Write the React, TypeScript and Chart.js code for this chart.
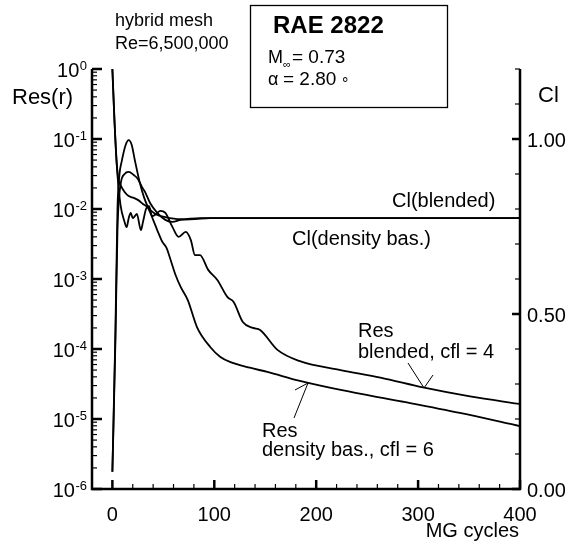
import React, { useEffect, useRef } from "react";
import { Chart, registerables } from "chart.js";
Chart.register(...registerables);

const FONT = "'Liberation Sans', Arial, Helvetica, sans-serif";

// MG cycles / residual (density based, cfl = 6)
const RES_DENSITY_X = [0, 1, 2, 4, 6, 8, 12, 16, 21, 25, 30, 35, 40, 44, 49, 53, 57, 62, 67, 74, 83, 96, 106, 116, 135, 152, 184, 224, 282, 341, 400];
const RES_DENSITY_Y = [1, 0.43, 0.19, 0.05, 0.026, 0.022, 0.0175, 0.0153, 0.0144, 0.0135, 0.0118, 0.0103, 0.007, 0.005, 0.0034, 0.0028, 0.0019, 0.00114, 0.00077, 0.0005, 0.000206, 0.000107, 7.7e-5, 6.5e-5, 5.4e-5, 4.7e-5, 3.5e-5, 2.6e-5, 1.8e-5, 1.22e-5, 7.9e-6];

// residual (blended, cfl = 4)
const RES_BLENDED_X = [0, 2, 5, 8, 12, 14, 16, 18, 20, 22, 24, 28, 30, 33, 36, 39, 43, 47, 52, 59, 65, 72, 77, 81, 86, 94, 103, 113, 119, 128, 138, 145, 162, 184, 224, 263, 306, 351, 400];
const RES_BLENDED_Y = [1, 0.19, 0.031, 0.0114, 0.0065, 0.0055, 0.0074, 0.0088, 0.0074, 0.0079, 0.0085, 0.005, 0.0065, 0.01, 0.011, 0.0079, 0.0085, 0.0094, 0.0088, 0.0055, 0.004, 0.0047, 0.0036, 0.0022, 0.0022, 0.00135, 0.00097, 0.00055, 0.00047, 0.000243, 0.0002, 0.000187, 9.7e-5, 6.7e-5, 5e-5, 3.9e-5, 2.8e-5, 2.1e-5, 1.64e-5];

// Cl (blended)
const CL_BLENDED_X = [0, 3, 5, 7, 9, 13, 16, 19, 22, 27, 31, 35, 42, 52, 67, 86, 400];
const CL_BLENDED_Y = [0.049, 0.454, 0.8, 0.9, 0.934, 0.983, 0.997, 0.983, 0.94, 0.874, 0.834, 0.806, 0.786, 0.777, 0.771, 0.774, 0.774];

// Cl (density based)
const CL_DENSITY_X = [0, 3, 5, 8, 12, 16, 21, 25, 29, 32, 37, 44, 52, 59, 67, 81, 96, 400];
const CL_DENSITY_Y = [0.049, 0.426, 0.74, 0.869, 0.9, 0.906, 0.897, 0.886, 0.863, 0.849, 0.817, 0.789, 0.769, 0.763, 0.769, 0.771, 0.774, 0.774];

// axes
const X_MIN = -20;
const X_MAX = 400;
const X_MAJOR = [0, 100, 200, 300, 400];
const X_LABELS = ["0", "100", "200", "300", "400"];
const X_MINOR_STEP = 20;
const LOG_EXPONENTS = [0, -1, -2, -3, -4, -5, -6];
const LOG_LABELS = ["0", "-1", "-2", "-3", "-4", "-5", "-6"];
const CL_MAX = 1.2;
const CL_MAJOR = [0, 0.5, 1.0];
const CL_LABELS = ["0.00", "0.50", "1.00"];
const CL_MINOR = [0.1, 0.2, 0.3, 0.4, 0.6, 0.7, 0.8, 0.9, 1.1, 1.2];

const toPts = (xs: number[], ys: number[]) => xs.map((x, i) => ({ x, y: ys[i] }));

const decor = {
  id: "decor",
  afterDraw(chart: any) {
    const ctx: CanvasRenderingContext2D = chart.ctx;
    const { left, right, top, bottom } = chart.chartArea;
    const xs = chart.scales.x;
    const ys = chart.scales.y;
    const y2 = chart.scales.y2;
    ctx.save();
    ctx.strokeStyle = "#000";
    ctx.fillStyle = "#000";
    ctx.lineCap = "butt";

    // axis lines
    ctx.lineWidth = 2.5;
    ctx.beginPath();
    ctx.moveTo(left, top);
    ctx.lineTo(left, bottom);
    ctx.lineTo(right, bottom);
    ctx.lineTo(right, top);
    ctx.stroke();

    // left log ticks
    LOG_EXPONENTS.forEach((e) => {
      const y = ys.getPixelForValue(Math.pow(10, e));
      ctx.lineWidth = 2.5;
      ctx.beginPath();
      ctx.moveTo(left, y);
      ctx.lineTo(left + 10, y);
      ctx.stroke();
      if (e < 0) {
        ctx.lineWidth = 1.2;
        for (let m = 2; m <= 9; m++) {
          const ym = ys.getPixelForValue(m * Math.pow(10, e));
          ctx.beginPath();
          ctx.moveTo(left, ym);
          ctx.lineTo(left + 5, ym);
          ctx.stroke();
        }
      }
    });

    // bottom ticks
    for (let v = 0; v <= X_MAX; v += X_MINOR_STEP) {
      const x = xs.getPixelForValue(v);
      const major = X_MAJOR.includes(v);
      ctx.lineWidth = major ? 2.5 : 1.2;
      ctx.beginPath();
      ctx.moveTo(x, bottom);
      ctx.lineTo(x, bottom - (major ? 9 : 5));
      ctx.stroke();
    }

    // right ticks
    CL_MAJOR.forEach((v) => {
      const y = y2.getPixelForValue(v);
      ctx.lineWidth = 2.5;
      ctx.beginPath();
      ctx.moveTo(right, y);
      ctx.lineTo(right - 8, y);
      ctx.stroke();
    });
    CL_MINOR.forEach((v) => {
      const y = y2.getPixelForValue(v);
      ctx.lineWidth = 1.2;
      ctx.beginPath();
      ctx.moveTo(right, y);
      ctx.lineTo(right - 5, y);
      ctx.stroke();
    });

    // left labels with superscript
    ctx.textBaseline = "alphabetic";
    LOG_EXPONENTS.forEach((e, i) => {
      const y = ys.getPixelForValue(Math.pow(10, e));
      ctx.font = `13px ${FONT}`;
      ctx.textAlign = "right";
      const expW = ctx.measureText(LOG_LABELS[i]).width;
      ctx.fillText(LOG_LABELS[i], 87, y + 1);
      ctx.font = `20px ${FONT}`;
      ctx.fillText("10", 87 - expW - 0.5, y + 8);
    });

    // bottom labels
    ctx.font = `20px ${FONT}`;
    ctx.textAlign = "center";
    X_MAJOR.forEach((v, i) => {
      ctx.fillText(X_LABELS[i], xs.getPixelForValue(v), bottom + 32);
    });

    // right labels
    ctx.textAlign = "left";
    CL_MAJOR.forEach((v, i) => {
      ctx.fillText(CL_LABELS[i], right + 7, y2.getPixelForValue(v) + 8);
    });

    // axis titles
    ctx.font = `22px ${FONT}`;
    ctx.fillText("Res(r)", 12, 104);
    ctx.fillText("Cl", 538, 102);
    ctx.font = `20px ${FONT}`;
    ctx.textAlign = "right";
    ctx.fillText("MG cycles", 519, 537);

    // header text
    ctx.textAlign = "left";
    ctx.font = `18px ${FONT}`;
    ctx.fillText("hybrid mesh", 115, 26);
    ctx.fillText("Re=6,500,000", 115, 49);

    // info box
    ctx.lineWidth = 1.3;
    ctx.strokeRect(250.5, 5.5, 197, 102);
    ctx.font = `bold 24px ${FONT}`;
    ctx.fillText("RAE 2822", 273, 33);
    ctx.font = `18px ${FONT}`;
    ctx.fillText("M", 268, 63);
    ctx.font = `11px ${FONT}`;
    ctx.fillText("\u221e", 283, 68);
    ctx.font = `19px ${FONT}`;
    ctx.fillText("= 0.73", 292, 63);
    ctx.font = `18px ${FONT}`;
    ctx.fillText("\u03b1", 268, 85);
    ctx.font = `19px ${FONT}`;
    ctx.fillText("= 2.80", 283, 85);
    ctx.font = `16px ${FONT}`;
    ctx.fillText("\u00b0", 342, 89);

    // annotations
    ctx.font = `20px ${FONT}`;
    ctx.fillText("Cl(blended)", 392, 207);
    ctx.fillText("Cl(density bas.)", 292, 245);
    ctx.fillText("Res", 358, 337);
    ctx.fillText("blended, cfl = 4", 358, 358);
    ctx.fillText("Res", 262, 437);
    ctx.fillText("density bas., cfl = 6", 262, 456);

    // leader lines
    ctx.lineWidth = 1;
    ctx.beginPath();
    ctx.moveTo(408, 363);
    ctx.lineTo(424, 388);
    ctx.lineTo(433, 375);
    ctx.moveTo(294, 418);
    ctx.lineTo(308, 383);
    ctx.lineTo(295, 390);
    ctx.stroke();

    ctx.restore();
  },
};

export default function App() {
  const ref = useRef<HTMLCanvasElement>(null);
  useEffect(() => {
    if (!ref.current) return;
    const line = { borderColor: "#000", borderWidth: 1.8, pointRadius: 0, fill: false, cubicInterpolationMode: "monotone" as const };
    const chart = new Chart(ref.current, {
      type: "line",
      data: {
        datasets: [
          { ...line, label: "Res density", data: toPts(RES_DENSITY_X, RES_DENSITY_Y), yAxisID: "y" },
          { ...line, label: "Res blended", data: toPts(RES_BLENDED_X, RES_BLENDED_Y), yAxisID: "y" },
          { ...line, label: "Cl blended", data: toPts(CL_BLENDED_X, CL_BLENDED_Y), yAxisID: "y2" },
          { ...line, label: "Cl density", data: toPts(CL_DENSITY_X, CL_DENSITY_Y), yAxisID: "y2" },
        ],
      },
      options: {
        responsive: false,
        animation: false,
        layout: { padding: { left: 92, right: 50, top: 69, bottom: 55 } },
        plugins: { legend: { display: false }, tooltip: { enabled: false } },
        scales: {
          x: { type: "linear", min: X_MIN, max: X_MAX, display: false },
          y: { type: "logarithmic", min: 1e-6, max: 1, display: false },
          y2: { type: "linear", min: 0, max: CL_MAX, display: false },
        },
      },
      plugins: [decor],
    });
    return () => chart.destroy();
  }, []);
  return (
    <div style={{ position: "absolute", left: 0, top: 0, width: 570, height: 544, background: "#fff" }}>
      <canvas ref={ref} width={570} height={544} />
    </div>
  );
}
